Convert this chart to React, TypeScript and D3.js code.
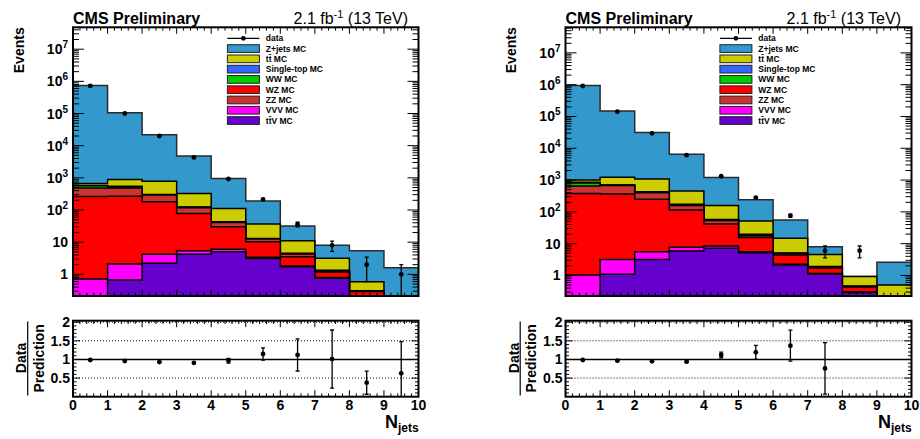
import React from "react";
import * as d3 from "d3";

// ---------------- data ----------------
const NJETS = [0, 1, 2, 3, 4, 5, 6, 7, 8, 9];
const X_TICK_LABELS = ["0", "1", "2", "3", "4", "5", "6", "7", "8", "9", "10"];

// legend order (top to bottom)
const LEGEND_KEYS = ["Z", "tt", "ST", "WW", "WZ", "ZZ", "VVV", "ttV"];
const PROCESS_LABELS = ["Z+jets MC", "t\u0074\u0304 MC", "Single-top MC", "WW MC", "WZ MC", "ZZ MC", "VVV MC", "t\u0074\u0304V MC"];
const PROCESS_COLORS = ["#3399cc", "#cccc00", "#3366ff", "#00cc00", "#ff0000", "#cc3333", "#ff00ff", "#6600cc"];
// stacking order (bottom to top)
const STACK_KEYS = ["ttV", "VVV", "WZ", "ZZ", "WW", "ST", "tt", "Z"];

// Left panel
const L_TTV = [0.1, 0.67, 2.2, 4.2, 5.0, 3.1, 1.72, 0.75, 0.05, 0.02];
const L_VVV = [0.61, 1.42, 2.0, 1.2, 1.0, 0.3, 0.1, 0.05, 0.02, 0.01];
const L_WZ = [264, 268, 176, 72.6, 24, 6.9, 1.68, 0.38, 0.22, 0.05];
const L_ZZ = [215, 210, 110, 40, 11, 2.2, 0.8, 0.1, 0.01, 0.02];
const L_WW = [85, 40, 8, 3, 0.8, 0.2, 0.05, 0.01, 0, 0];
const L_ST = [15, 25, 7, 4, 1.2, 0.4, 0.15, 0.04, 0.01, 0.02];
const L_TT = [90, 345, 485, 203, 69, 23.4, 6.6, 1.81, 0.28, 0.05];
const L_Z = [739000, 104000, 20900, 4472, 848, 153.5, 20.9, 4.86, 4.81, 1.43];
const L_DATA = [720000, 100000, 20000, 4300, 920, 214, 36, 8, 2, 1];
const L_DATA_ERR = [849, 316, 141, 66, 30, 14.6, 6, 2.83, 1.41, 1];
const L_RATIO = [0.985, 0.958, 0.93, 0.91, 0.966, 1.146, 1.12, 1.01, 0.376, 0.628];
const L_RATIO_ERR = [0.01, 0.01, 0.01, 0.02, 0.065, 0.165, 0.43, 0.78, 0.31, 0.85];

// Right panel
const R_TTV = [0.15, 1.09, 3.2, 5.9, 7.2, 5.2, 2.14, 1.11, 0.29, 0.05];
const R_VVV = [0.89, 2.1, 2.4, 1.8, 1.3, 0.4, 0.1, 0.05, 0.02, 0.01];
const R_WZ = [379, 362, 244, 107, 33, 9.9, 2.16, 0.56, 0.12, 0.05];
const R_ZZ = [270, 305, 150, 45, 12.5, 2.3, 0.5, 0.12, 0.02, 0.02];
const R_WW = [160, 20, 15, 5, 1.5, 0.5, 0.05, 0.02, 0, 0];
const R_ST = [40, 15, 16, 8, 2.5, 1.4, 0.15, 0.04, 0.02, 0.02];
const R_TT = [150, 525, 649, 281, 102, 32.3, 9.7, 2.7, 0.45, 0.35];
const R_Z = [939000, 146800, 30400, 6046, 1040, 188, 41.2, 3.4, 0, 2.1];
const R_DATA = [910000, 142000, 29600, 6050, 1320, 280, 76, 6, 6, null];
const R_DATA_ERR = [954, 377, 172, 78, 36, 16.7, 8.7, 2.45, 2.45, null];
const R_RATIO = [0.985, 0.966, 0.95, 0.94, 1.12, 1.19, 1.37, 0.76, null, null];
const R_RATIO_ERR = [0.01, 0.01, 0.01, 0.02, 0.075, 0.19, 0.415, 0.69, null, null];

// ---------------- layout ----------------
const W = 920;
const H = 439;
const MAIN_Y0 = 27.3;
const MAIN_Y1 = 296;
const RAT_Y0 = 320.7;
const RAT_Y1 = 396.7;
const FONT = "'Liberation Sans', Arial, Helvetica, sans-serif";

type PanelProps = {
  id: string;
  x0: number;
  x1: number;
  yMin: number;
  yMax: number;
  proc: Record<string, number[]>;
  data: (number | null)[];
  dataErr: (number | null)[];
  ratio: (number | null)[];
  ratioErr: (number | null)[];
};

function Panel({ id, x0, x1, yMin, yMax, proc, data, dataErr, ratio, ratioErr }: PanelProps) {
  const x = d3.scaleLinear().domain([0, 10]).range([x0, x1]);
  const y = d3.scaleLog().domain([yMin, yMax]).range([MAIN_Y1, MAIN_Y0]).clamp(true);
  const r = d3.scaleLinear().domain([0, 2.04]).range([RAT_Y1, RAT_Y0]).clamp(true);
  const ys = (v: number) => y(Math.max(v, 1e-6));

  const rows = NJETS.map((n, i) => {
    const o: any = { n };
    STACK_KEYS.forEach((k) => (o[k] = proc[k][i]));
    return o;
  });
  const stacked = d3.stack().keys(STACK_KEYS)(rows);
  const line = d3.line();
  const layers = stacked.map((s) => {
    const pts: [number, number][] = [[x0, MAIN_Y1]];
    s.forEach((d, i) => {
      pts.push([x(NJETS[i]), ys(d[1])]);
      pts.push([x(NJETS[i] + 1), ys(d[1])]);
    });
    pts.push([x1, MAIN_Y1]);
    return { key: s.key, d: line(pts) + "Z" };
  });

  const colorOf = (k: string) => PROCESS_COLORS[LEGEND_KEYS.indexOf(k)];

  // ticks
  const xMajor = d3.range(0, 11);
  const xMinor = d3.range(1, 50).filter((i) => i % 5 !== 0).map((i) => i * 0.2);
  const decades = d3.range(0, 8);
  const yMinor: number[] = [];
  for (let k = -1; k <= 7; k++) for (let m = 2; m <= 9; m++) {
    const v = m * Math.pow(10, k);
    if (v > yMin && v < yMax) yMinor.push(v);
  }
  const rMajor = [0.5, 1, 1.5, 2];
  const rMinor = d3.range(1, 21).filter((i) => i % 5 !== 0).map((i) => i / 10);

  const clipMain = `clip-main-${id}`;
  const clipRat = `clip-rat-${id}`;
  const legX = x0 + 154.4;
  const rowY = (i: number) => 38.3 + 10.28 * i;

  const errBar = (cx: number, yt: number, yb: number, key: string) => (
    <g key={key} stroke="#000" strokeWidth={1.3}>
      <line x1={cx} x2={cx} y1={yt} y2={yb} />
      <line x1={cx - 2} x2={cx + 2} y1={yt} y2={yt} />
      <line x1={cx - 2} x2={cx + 2} y1={yb} y2={yb} />
    </g>
  );

  return (
    <g fontFamily={FONT}>
      <defs>
        <clipPath id={clipMain}>
          <rect x={x0} y={MAIN_Y0} width={x1 - x0} height={MAIN_Y1 - MAIN_Y0} />
        </clipPath>
        <clipPath id={clipRat}>
          <rect x={x0} y={RAT_Y0} width={x1 - x0} height={RAT_Y1 - RAT_Y0} />
        </clipPath>
      </defs>

      {/* stacked histograms, top layer first */}
      <g clipPath={`url(#${clipMain})`}>
        {layers
          .slice()
          .reverse()
          .map((l) => (
            <path key={l.key} d={l.d} fill={colorOf(l.key)} stroke={l.key === "Z" ? "#2a2a2a" : "#000"} strokeWidth={1.5} strokeLinejoin="miter" />
          ))}
        {/* data */}
        {data.map((v, i) => {
          if (v == null) return null;
          const cx = x(NJETS[i] + 0.5);
          const e = dataErr[i] as number;
          return (
            <g key={`d${i}`}>
              {errBar(cx, ys(v + e), ys(v - e), `e${i}`)}
              <circle cx={cx} cy={ys(v)} r={2.4} fill="#000" />
            </g>
          );
        })}
      </g>

      {/* main frame ticks */}
      <g stroke="#000" strokeWidth={1}>
        {xMajor.map((t) => (
          <g key={`xm${t}`}>
            <line x1={x(t)} x2={x(t)} y1={MAIN_Y1} y2={MAIN_Y1 - 6.5} />
            <line x1={x(t)} x2={x(t)} y1={MAIN_Y0} y2={MAIN_Y0 + 6.5} />
          </g>
        ))}
        {xMinor.map((t, i) => (
          <g key={`xn${i}`}>
            <line x1={x(t)} x2={x(t)} y1={MAIN_Y1} y2={MAIN_Y1 - 3.3} />
            <line x1={x(t)} x2={x(t)} y1={MAIN_Y0} y2={MAIN_Y0 + 3.3} />
          </g>
        ))}
        {decades.map((k) => (
          <g key={`yd${k}`}>
            <line x1={x0} x2={x0 + 11} y1={y(Math.pow(10, k))} y2={y(Math.pow(10, k))} />
            <line x1={x1} x2={x1 - 11} y1={y(Math.pow(10, k))} y2={y(Math.pow(10, k))} />
          </g>
        ))}
        {yMinor.map((v, i) => (
          <g key={`yn${i}`}>
            <line x1={x0} x2={x0 + 6} y1={y(v)} y2={y(v)} />
            <line x1={x1} x2={x1 - 6} y1={y(v)} y2={y(v)} />
          </g>
        ))}
      </g>
      <rect x={x0} y={MAIN_Y0} width={x1 - x0} height={MAIN_Y1 - MAIN_Y0} fill="none" stroke="#000" strokeWidth={2} />

      {/* main y labels */}
      <g fontWeight="bold" fontSize={14} textAnchor="end">
        {decades.map((k) => (
          <text key={`yl${k}`} x={x0 - 5} y={y(Math.pow(10, k)) + 5}>
            {k === 0 ? "1" : k === 1 ? "10" : (
              <>
                <tspan>10</tspan>
                <tspan dy={-6} fontSize={10}>{k}</tspan>
              </>
            )}
          </text>
        ))}
      </g>
      <text transform={`translate(${x0 - 49.5},${MAIN_Y0}) rotate(-90)`} textAnchor="end" fontWeight="bold" fontSize={14}>
        Events
      </text>

      {/* titles */}
      <text x={x0} y={24} fontWeight="bold" fontSize={16}>CMS Preliminary</text>
      <text x={x1 - 10.5} y={24} fontSize={16} textAnchor="end">
        <tspan>2.1 fb</tspan>
        <tspan dy={-6} fontSize={11}>-1</tspan>
        <tspan dy={6}> (13 TeV)</tspan>
      </text>

      {/* legend */}
      <g>
        <line x1={legX} x2={legX + 32} y1={rowY(0)} y2={rowY(0)} stroke="#000" strokeWidth={1.3} />
        <circle cx={legX + 16} cy={rowY(0)} r={2.4} fill="#000" />
        <text x={legX + 38.4} y={rowY(0) + 3} fontSize={8.5} fontWeight="bold">data</text>
        {LEGEND_KEYS.map((k, i) => (
          <g key={`lg${k}`}>
            <rect x={legX} y={rowY(i + 1) - 3.85} width={32} height={7.7} fill={PROCESS_COLORS[i]} stroke="#222" strokeWidth={1} />
            <text x={legX + 38.4} y={rowY(i + 1) + 3} fontSize={8.5} fontWeight="bold">{PROCESS_LABELS[i]}</text>
          </g>
        ))}
      </g>

      {/* ratio panel */}
      <g>
        {[0.5, 1.5, 2].map((v) => (
          <line key={`g${v}`} x1={x0} x2={x1} y1={r(v)} y2={r(v)} stroke="#000" strokeWidth={1} strokeDasharray="1,2" />
        ))}
        <line x1={x0} x2={x1} y1={r(1)} y2={r(1)} stroke="#000" strokeWidth={1.5} />
        <g clipPath={`url(#${clipRat})`}>
          {ratio.map((v, i) => {
            if (v == null) return null;
            const cx = x(NJETS[i] + 0.5);
            const e = ratioErr[i] as number;
            return (
              <g key={`r${i}`}>
                {errBar(cx, r(v + e), r(Math.max(v - e, -0.1)), `re${i}`)}
                <circle cx={cx} cy={r(v)} r={2.4} fill="#000" />
              </g>
            );
          })}
        </g>
        <g stroke="#000" strokeWidth={1}>
          {xMajor.map((t) => (
            <g key={`rxm${t}`}>
              <line x1={x(t)} x2={x(t)} y1={RAT_Y1} y2={RAT_Y1 - 6.5} />
              <line x1={x(t)} x2={x(t)} y1={RAT_Y0} y2={RAT_Y0 + 6.5} />
            </g>
          ))}
          {xMinor.map((t, i) => (
            <g key={`rxn${i}`}>
              <line x1={x(t)} x2={x(t)} y1={RAT_Y1} y2={RAT_Y1 - 3.3} />
              <line x1={x(t)} x2={x(t)} y1={RAT_Y0} y2={RAT_Y0 + 3.3} />
            </g>
          ))}
          {rMajor.map((v) => (
            <g key={`rym${v}`}>
              <line x1={x0} x2={x0 + 7} y1={r(v)} y2={r(v)} />
              <line x1={x1} x2={x1 - 7} y1={r(v)} y2={r(v)} />
            </g>
          ))}
          {rMinor.map((v, i) => (
            <g key={`ryn${i}`}>
              <line x1={x0} x2={x0 + 3.5} y1={r(v)} y2={r(v)} />
              <line x1={x1} x2={x1 - 3.5} y1={r(v)} y2={r(v)} />
            </g>
          ))}
        </g>
        <rect x={x0} y={RAT_Y0} width={x1 - x0} height={RAT_Y1 - RAT_Y0} fill="none" stroke="#000" strokeWidth={2} />
        <g fontWeight="bold" fontSize={14} textAnchor="end">
          {rMajor.map((v) => (
            <text key={`ryl${v}`} x={x0 - 3} y={r(v) + 5}>{String(v)}</text>
          ))}
        </g>
        <g fontWeight="bold" fontSize={14} textAnchor="middle">
          {xMajor.map((t, i) => (
            <text key={`rxl${t}`} x={x(t)} y={409.5}>{X_TICK_LABELS[i]}</text>
          ))}
        </g>
        <text x={x1 - 33.5} y={428} fontWeight="bold" fontSize={18}>
          <tspan>N</tspan>
          <tspan dy={4} fontSize={12}>jets</tspan>
        </text>
        {/* Data / Prediction */}
        <text transform={`translate(${x0 - 47},${358}) rotate(-90)`} textAnchor="middle" fontWeight="bold" fontSize={14}>Data</text>
        <line x1={x0 - 45.3} x2={x0 - 45.3} y1={321.5} y2={395.5} stroke="#000" strokeWidth={1.2} />
        <text transform={`translate(${x0 - 29.5},${358.3}) rotate(-90)`} textAnchor="middle" fontWeight="bold" fontSize={14}>Prediction</text>
      </g>
    </g>
  );
}

export default function App() {
  const leftProc = { ttV: L_TTV, VVV: L_VVV, WZ: L_WZ, ZZ: L_ZZ, WW: L_WW, ST: L_ST, tt: L_TT, Z: L_Z };
  const rightProc = { ttV: R_TTV, VVV: R_VVV, WZ: R_WZ, ZZ: R_ZZ, WW: R_WW, ST: R_ST, tt: R_TT, Z: R_Z };
  return (
    <svg width={W} height={H} style={{ position: "absolute", left: 0, top: 0, background: "#fff" }}>
      <rect width={W} height={H} fill="#fff" />
      <Panel id="l" x0={73} x1={418.5} yMin={0.212} yMax={4.79e7} proc={leftProc}
        data={L_DATA} dataErr={L_DATA_ERR} ratio={L_RATIO} ratioErr={L_RATIO_ERR} />
      <Panel id="r" x0={565.5} x1={911.5} yMin={0.226} yMax={6.38e7} proc={rightProc}
        data={R_DATA} dataErr={R_DATA_ERR} ratio={R_RATIO} ratioErr={R_RATIO_ERR} />
    </svg>
  );
}
